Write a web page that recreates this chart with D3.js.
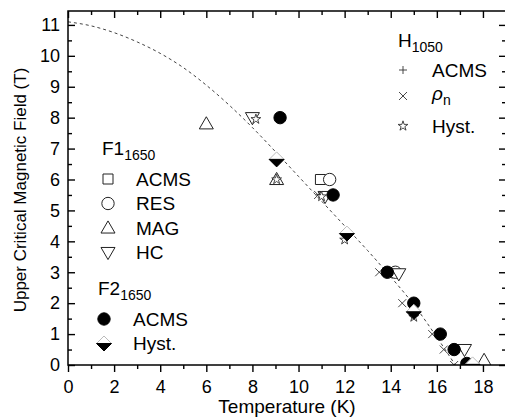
<!DOCTYPE html>
<html>
<head>
<meta charset="utf-8">
<script src="https://cdn.jsdelivr.net/npm/d3@7"></script>
<style>
  body { margin: 0; background: #fff; }
  svg { font-family: "Liberation Sans", Arial, sans-serif; }
</style>
</head>
<body>
<div id="chart"></div>
<script>
// Hc2 vs temperature

// dashed fit line (T in K, H in T)
const fitT = [0, 1, 2, 3, 4, 5, 6, 7, 8, 9, 10, 11, 12, 13, 14, 15, 16, 16.8];
const fitH = [11.1, 10.97, 10.75, 10.45, 10.08, 9.62, 9.05, 8.4, 7.68, 6.9, 6.1, 5.3, 4.5, 3.7, 2.85, 1.95, 0.9, 0];

// F1_1650 (open symbols)
const f1ACMS = [[10.95, 6.0]];
const f1RES = [[11.35, 6.0], [14.2, 3.0]];
const f1MAG = [[6.0, 7.8], [9.05, 6.0], [18.05, 0.15]];
const f1HC = [[8.0, 8.0], [11.15, 5.45], [14.35, 2.95], [17.2, 0.5]];

// F2_1650 (filled symbols)
const f2ACMS = [[9.2, 8.0], [11.5, 5.5], [13.85, 3.0], [15.0, 2.0], [16.15, 1.0], [16.75, 0.5], [17.3, 0.05]];
const f2Hyst = [[9.05, 6.65], [12.1, 4.25], [15.0, 1.72], [17.55, 0.02]];

// H_1050 (thin symbols)
const hACMS = [[10.9, 5.5]];
const hRho = [[10.85, 5.5], [13.5, 3.0], [14.5, 2.0], [15.8, 1.0], [16.3, 0.5], [16.75, 0.0]];
const hHyst = [[8.15, 7.95], [9.05, 6.0], [11.0, 5.45], [12.0, 4.05], [15.0, 1.55]];

const xMajor = [0, 2, 4, 6, 8, 10, 12, 14, 16, 18];
const xMinor = [1, 3, 5, 7, 9, 11, 13, 15, 17];
const yMajor = [0, 1, 2, 3, 4, 5, 6, 7, 8, 9, 10, 11];
const yMinor = [0.5, 1.5, 2.5, 3.5, 4.5, 5.5, 6.5, 7.5, 8.5, 9.5, 10.5];

const width = 505, height = 418;
const margin = {top: 11, right: -1, bottom: 53, left: 68};

const svg = d3.select("#chart")
    .append("svg")
    .attr("width", width)
    .attr("height", height);

const x = d3.scaleLinear()
    .domain([0, 19])
    .range([margin.left, width - margin.right]);
const y = d3.scaleLinear()
    .domain([0, 11.45])
    .range([height - margin.bottom, margin.top]);

const x0 = margin.left, x1 = width - margin.right;
const y0 = height - margin.bottom, y1 = margin.top;

// custom marker shapes
const plus = {draw(ctx, size) {
    const r = Math.sqrt(size) / 2;
    ctx.moveTo(-r, 0); ctx.lineTo(r, 0);
    ctx.moveTo(0, -r); ctx.lineTo(0, r);
}};
const times = {draw(ctx, size) {
    const r = Math.sqrt(size) / 2;
    ctx.moveTo(-r, -r); ctx.lineTo(r, r);
    ctx.moveTo(-r, r); ctx.lineTo(r, -r);
}};
const diamondTop = {draw(ctx, size) {
    const r = Math.sqrt(size) / 2;
    ctx.moveTo(-r, 0); ctx.lineTo(0, -r); ctx.lineTo(r, 0); ctx.closePath();
}};
const diamondBot = {draw(ctx, size) {
    const r = Math.sqrt(size) / 2;
    ctx.moveTo(-r, 0); ctx.lineTo(r, 0); ctx.lineTo(0, r); ctx.closePath();
}};

const sym = {
    square: d3.symbol().type(d3.symbolSquare).size(100)(),
    circle: d3.symbol().type(d3.symbolCircle).size(120)(),
    tri: d3.symbol().type(d3.symbolTriangle).size(85)(),
    star: d3.symbol().type(d3.symbolStar).size(30)(),
    plus: d3.symbol().type(plus).size(64)(),
    times: d3.symbol().type(times).size(64)(),
    dTop: d3.symbol().type(diamondTop).size(225)(),
    dBot: d3.symbol().type(diamondBot).size(225)()
};

// marker styles
function drawMarker(g, kind, cx, cy) {
    const t = `translate(${cx},${cy})`;
    if (kind === "square") {
        g.append("path").attr("d", sym.square).attr("transform", t)
            .attr("fill", "#fff").attr("stroke", "#222").attr("stroke-width", 1);
    } else if (kind === "circleOpen") {
        g.append("path").attr("d", sym.circle).attr("transform", t)
            .attr("fill", "#fff").attr("stroke", "#222").attr("stroke-width", 1);
    } else if (kind === "triUp") {
        g.append("path").attr("d", sym.tri).attr("transform", t + " translate(0,1)")
            .attr("fill", "#fff").attr("stroke", "#222").attr("stroke-width", 1);
    } else if (kind === "triDown") {
        g.append("path").attr("d", sym.tri).attr("transform", t + " translate(0,-1) rotate(180)")
            .attr("fill", "#fff").attr("stroke", "#222").attr("stroke-width", 1);
    } else if (kind === "circleFill") {
        g.append("path").attr("d", sym.circle).attr("transform", t)
            .attr("fill", "#000").attr("stroke", "#000").attr("stroke-width", 1);
    } else if (kind === "hyst2") {
        g.append("path").attr("d", sym.dTop).attr("transform", t)
            .attr("fill", "#fff").attr("stroke", "#bbb").attr("stroke-width", 1);
        g.append("path").attr("d", sym.dBot).attr("transform", t)
            .attr("fill", "#000").attr("stroke", "#000").attr("stroke-width", 1);
    } else if (kind === "plus") {
        g.append("path").attr("d", sym.plus).attr("transform", t)
            .attr("fill", "none").attr("stroke", "#333").attr("stroke-width", 0.9);
    } else if (kind === "times") {
        g.append("path").attr("d", sym.times).attr("transform", t)
            .attr("fill", "none").attr("stroke", "#333").attr("stroke-width", 0.9);
    } else if (kind === "star") {
        g.append("path").attr("d", sym.star).attr("transform", t)
            .attr("fill", "#fff").attr("stroke", "#333").attr("stroke-width", 0.9);
    }
}

// clip data to plot frame
svg.append("clipPath").attr("id", "plotClip")
    .append("rect")
    .attr("x", x0).attr("y", y1)
    .attr("width", x1 - x0).attr("height", y0 - y1);

const plot = svg.append("g").attr("clip-path", "url(#plotClip)");

// fit curve
const fitData = fitT.map((t, i) => [t, fitH[i]]);
const line = d3.line()
    .x(d => x(d[0]))
    .y(d => y(d[1]))
    .curve(d3.curveMonotoneX);
plot.append("path")
    .datum(fitData)
    .attr("d", line)
    .attr("fill", "none")
    .attr("stroke", "#444")
    .attr("stroke-width", 1)
    .attr("stroke-dasharray", "3,3");

const series = [
    [f1ACMS, "square"], [f1RES, "circleOpen"], [f1MAG, "triUp"], [f1HC, "triDown"],
    [hACMS, "plus"], [hRho, "times"], [hHyst, "star"],
    [f2ACMS, "circleFill"], [f2Hyst, "hyst2"]
];
series.forEach(([data, kind]) => {
    data.forEach(d => drawMarker(plot, kind, x(d[0]), y(d[1])));
});

// axes
function styleAxis(g) {
    g.select(".domain").remove();
    g.selectAll("line").attr("stroke", "#000").attr("stroke-width", 1.4);
    g.selectAll("text").attr("font-size", 18).attr("fill", "#000")
        .attr("font-family", "'Liberation Sans', Arial, sans-serif");
}

svg.append("g")
    .attr("transform", `translate(0,${y0})`)
    .call(d3.axisBottom(x).tickValues(xMajor).tickSize(7).tickPadding(8).tickFormat(d3.format("d")))
    .call(styleAxis);
svg.append("g")
    .attr("transform", `translate(0,${y0})`)
    .call(d3.axisBottom(x).tickValues(xMinor).tickSize(4).tickFormat(""))
    .call(styleAxis);
svg.append("g")
    .attr("transform", `translate(0,${y1})`)
    .call(d3.axisTop(x).tickValues(xMajor).tickSize(-7).tickFormat(""))
    .call(styleAxis);
svg.append("g")
    .attr("transform", `translate(0,${y1})`)
    .call(d3.axisTop(x).tickValues(xMinor).tickSize(-4).tickFormat(""))
    .call(styleAxis);

svg.append("g")
    .attr("transform", `translate(${x0},0)`)
    .call(d3.axisLeft(y).tickValues(yMajor).tickSize(-7).tickPadding(8).tickFormat(d3.format("d")))
    .call(styleAxis);
svg.append("g")
    .attr("transform", `translate(${x0},0)`)
    .call(d3.axisLeft(y).tickValues(yMinor).tickSize(-4).tickFormat(""))
    .call(styleAxis);
svg.append("g")
    .attr("transform", `translate(${x1},0)`)
    .call(d3.axisRight(y).tickValues(yMajor).tickSize(-7).tickFormat(""))
    .call(styleAxis);
svg.append("g")
    .attr("transform", `translate(${x1},0)`)
    .call(d3.axisRight(y).tickValues(yMinor).tickSize(-4).tickFormat(""))
    .call(styleAxis);

// frame
svg.append("rect")
    .attr("x", x0).attr("y", y1)
    .attr("width", x1 - x0).attr("height", y0 - y1)
    .attr("fill", "none")
    .attr("stroke", "#000")
    .attr("stroke-width", 1.5);

// axis titles
svg.append("text")
    .attr("x", 287)
    .attr("y", 413)
    .attr("text-anchor", "middle")
    .attr("font-size", 19)
    .text("Temperature (K)");
svg.append("text")
    .attr("transform", "rotate(-90)")
    .attr("x", -190)
    .attr("y", 26)
    .attr("text-anchor", "middle")
    .attr("font-size", 17)
    .text("Upper Critical Magnetic Field (T)");

// legends
function legendTitle(tx, ty, main, sub) {
    const t = svg.append("text").attr("x", tx).attr("y", ty).attr("font-size", 19);
    t.append("tspan").text(main);
    t.append("tspan").attr("font-size", 14).attr("dy", 5).text(sub);
}
function legendRow(mx, tx, cy, kind, label) {
    drawMarker(svg, kind, mx, cy);
    svg.append("text").attr("x", tx).attr("y", cy + 6.5).attr("font-size", 19).text(label);
}

legendTitle(398, 47, "H", "1050");
legendRow(403, 432, 70, "plus", "ACMS");
drawMarker(svg, "times", 403, 96);
const rho = svg.append("text").attr("x", 432).attr("y", 100).attr("font-size", 19);
rho.append("tspan").attr("font-style", "italic").text("ρ");
rho.append("tspan").attr("font-size", 14).attr("dy", 5).text("n");
legendRow(403, 432, 126, "star", "Hyst.");

legendTitle(102, 155, "F1", "1650");
legendRow(108, 136, 179, "square", "ACMS");
legendRow(108, 136, 203.5, "circleOpen", "RES");
legendRow(108, 136, 228, "triUp", "MAG");
legendRow(108, 136, 252.5, "triDown", "HC");

legendTitle(98, 295, "F2", "1650");
legendRow(104, 133, 319, "circleFill", "ACMS");
legendRow(104, 133, 343.5, "hyst2", "Hyst.");
</script>
</body>
</html>
